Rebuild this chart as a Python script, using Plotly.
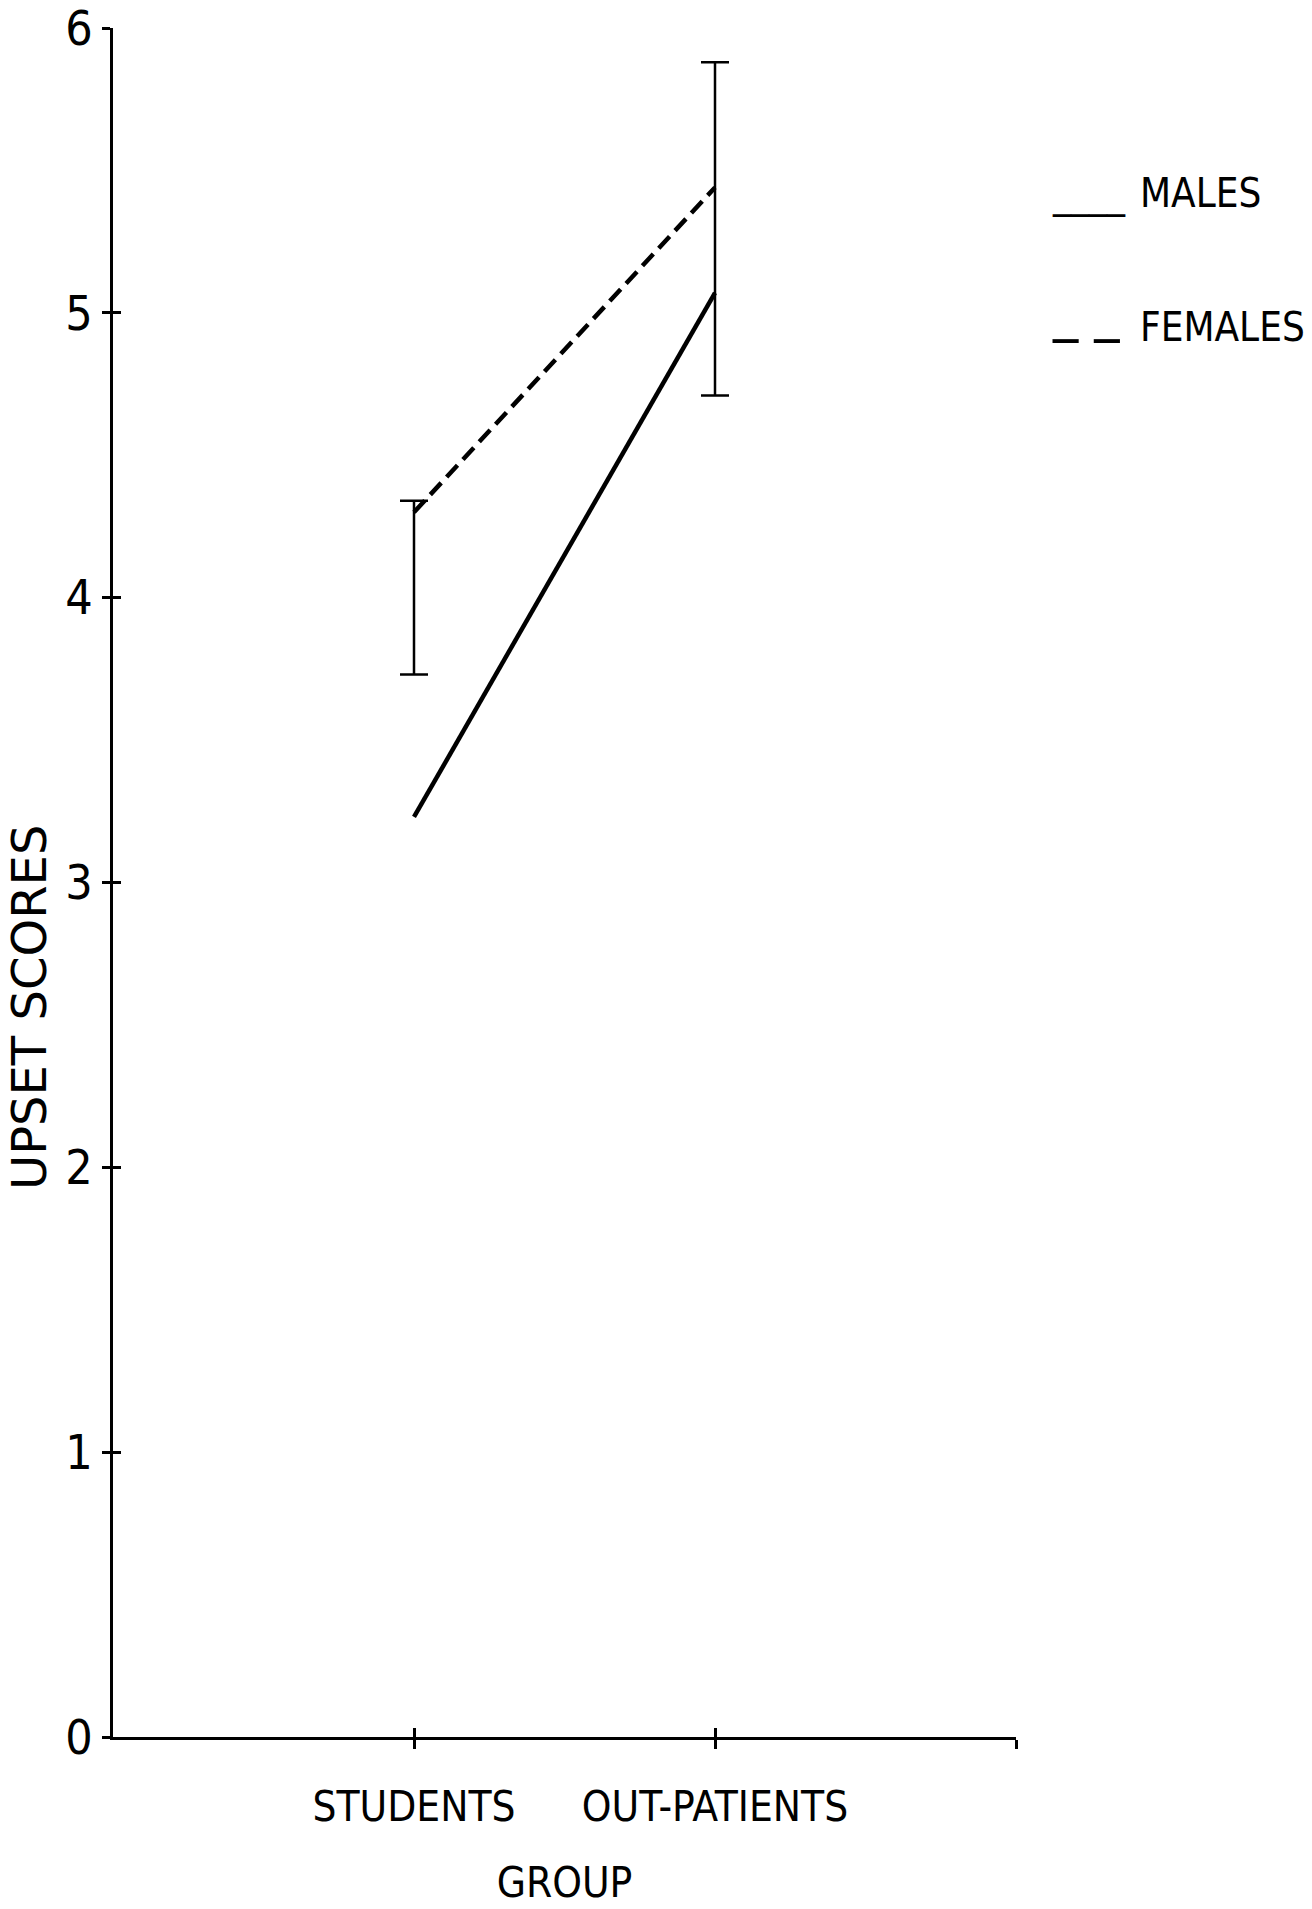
import plotly.graph_objects as go

categories = ["STUDENTS", "OUT-PATIENTS"]
males = [3.23, 5.07]
females = [4.30, 5.44]
err_low = [3.73, 4.71]
err_high = [4.34, 5.88]
y_ticks = [0, 1, 2, 3, 4, 5, 6]

x_pos = [i + 1 for i in range(len(categories))]
x_ticks = x_pos + [len(categories) + 1]
x_ticktext = categories + [""]
err_mid = [(a + b) / 2 for a, b in zip(err_low, err_high)]
err_half = [(b - a) / 2 for a, b in zip(err_low, err_high)]

NARROW = "Liberation Sans Narrow, DejaVu Sans Condensed, Arial Narrow, sans-serif"

fig = go.Figure()
fig.add_trace(go.Scatter(x=x_pos, y=males, mode="lines", name="MALES",
                         line=dict(color="black", width=4.5), showlegend=False))
fig.add_trace(go.Scatter(x=x_pos, y=females, mode="lines", name="FEMALES",
                         line=dict(color="black", width=4.5, dash="16px,8px"), showlegend=False))
fig.add_trace(go.Scatter(x=x_pos, y=err_mid, mode="markers", name="error",
                         marker=dict(size=0.1, color="rgba(0,0,0,0)"),
                         error_y=dict(type="data", array=err_half, visible=True,
                                      color="black", thickness=2.5, width=14),
                         showlegend=False))
# overlay axes carrying the inner half of crossing ticks
fig.add_trace(go.Scatter(x=[None], y=[None], xaxis="x2", yaxis="y2", showlegend=False))

axis_common = dict(showgrid=False, zeroline=False, linecolor="black", linewidth=2.5,
                   tickcolor="black", tickwidth=2.5, automargin=False)

def px_x(p):
    return (p - 113) / 903.0

def px_y(p):
    return (1737 - p) / 1709.0

fig.update_layout(
    width=1312, height=1909,
    margin=dict(l=113, r=296, t=28, b=172),
    paper_bgcolor="white", plot_bgcolor="white",
    xaxis=dict(range=[0, 3], tickvals=x_ticks, ticktext=x_ticktext,
               ticks="outside", ticklen=9, showline=True,
               tickfont=dict(family=NARROW, size=42, color="black"),
               ticklabelstandoff=22,
               title=dict(text="GROUP", font=dict(family=NARROW, size=42, color="black"),
                          standoff=38),
               **axis_common),
    yaxis=dict(range=[0, 6], tickvals=y_ticks, ticks="outside", ticklen=8, showline=True,
               tickfont=dict(family=NARROW, size=48, color="black"),
               ticklabelstandoff=0, ticklabeloverflow="allow",
               **axis_common),
    xaxis2=dict(range=[0, 3], tickvals=x_ticks, ticks="inside", ticklen=9,
                showticklabels=False, overlaying="x", anchor="y2", showline=False, **axis_common),
    yaxis2=dict(range=[0, 6], tickvals=y_ticks, ticks="inside", ticklen=8,
                showticklabels=False, overlaying="y", anchor="x2", showline=False, **axis_common),
    annotations=[
        dict(text="UPSET SCORES", xref="paper", yref="paper", x=px_x(29), y=px_y(1008),
             xanchor="center", yanchor="middle", textangle=-90, showarrow=False,
             font=dict(family="DejaVu Sans", size=48, color="black")),
        dict(text="____", xref="paper", yref="paper", x=px_x(1050), y=px_y(193),
             xanchor="left", yanchor="middle", showarrow=False,
             font=dict(family=NARROW, size=40, color="black")),
        dict(text="MALES", xref="paper", yref="paper", x=px_x(1138), y=px_y(193),
             xanchor="left", yanchor="middle", showarrow=False,
             font=dict(family=NARROW, size=40, color="black")),
        dict(text="_\u00a0_", xref="paper", yref="paper", x=px_x(1050), y=px_y(310),
             xanchor="left", yanchor="middle", showarrow=False,
             font=dict(family=NARROW, size=56, color="black")),
        dict(text="FEMALES", xref="paper", yref="paper", x=px_x(1138), y=px_y(327),
             xanchor="left", yanchor="middle", showarrow=False,
             font=dict(family=NARROW, size=40, color="black")),
    ],
)

fig.write_html("out.html")
